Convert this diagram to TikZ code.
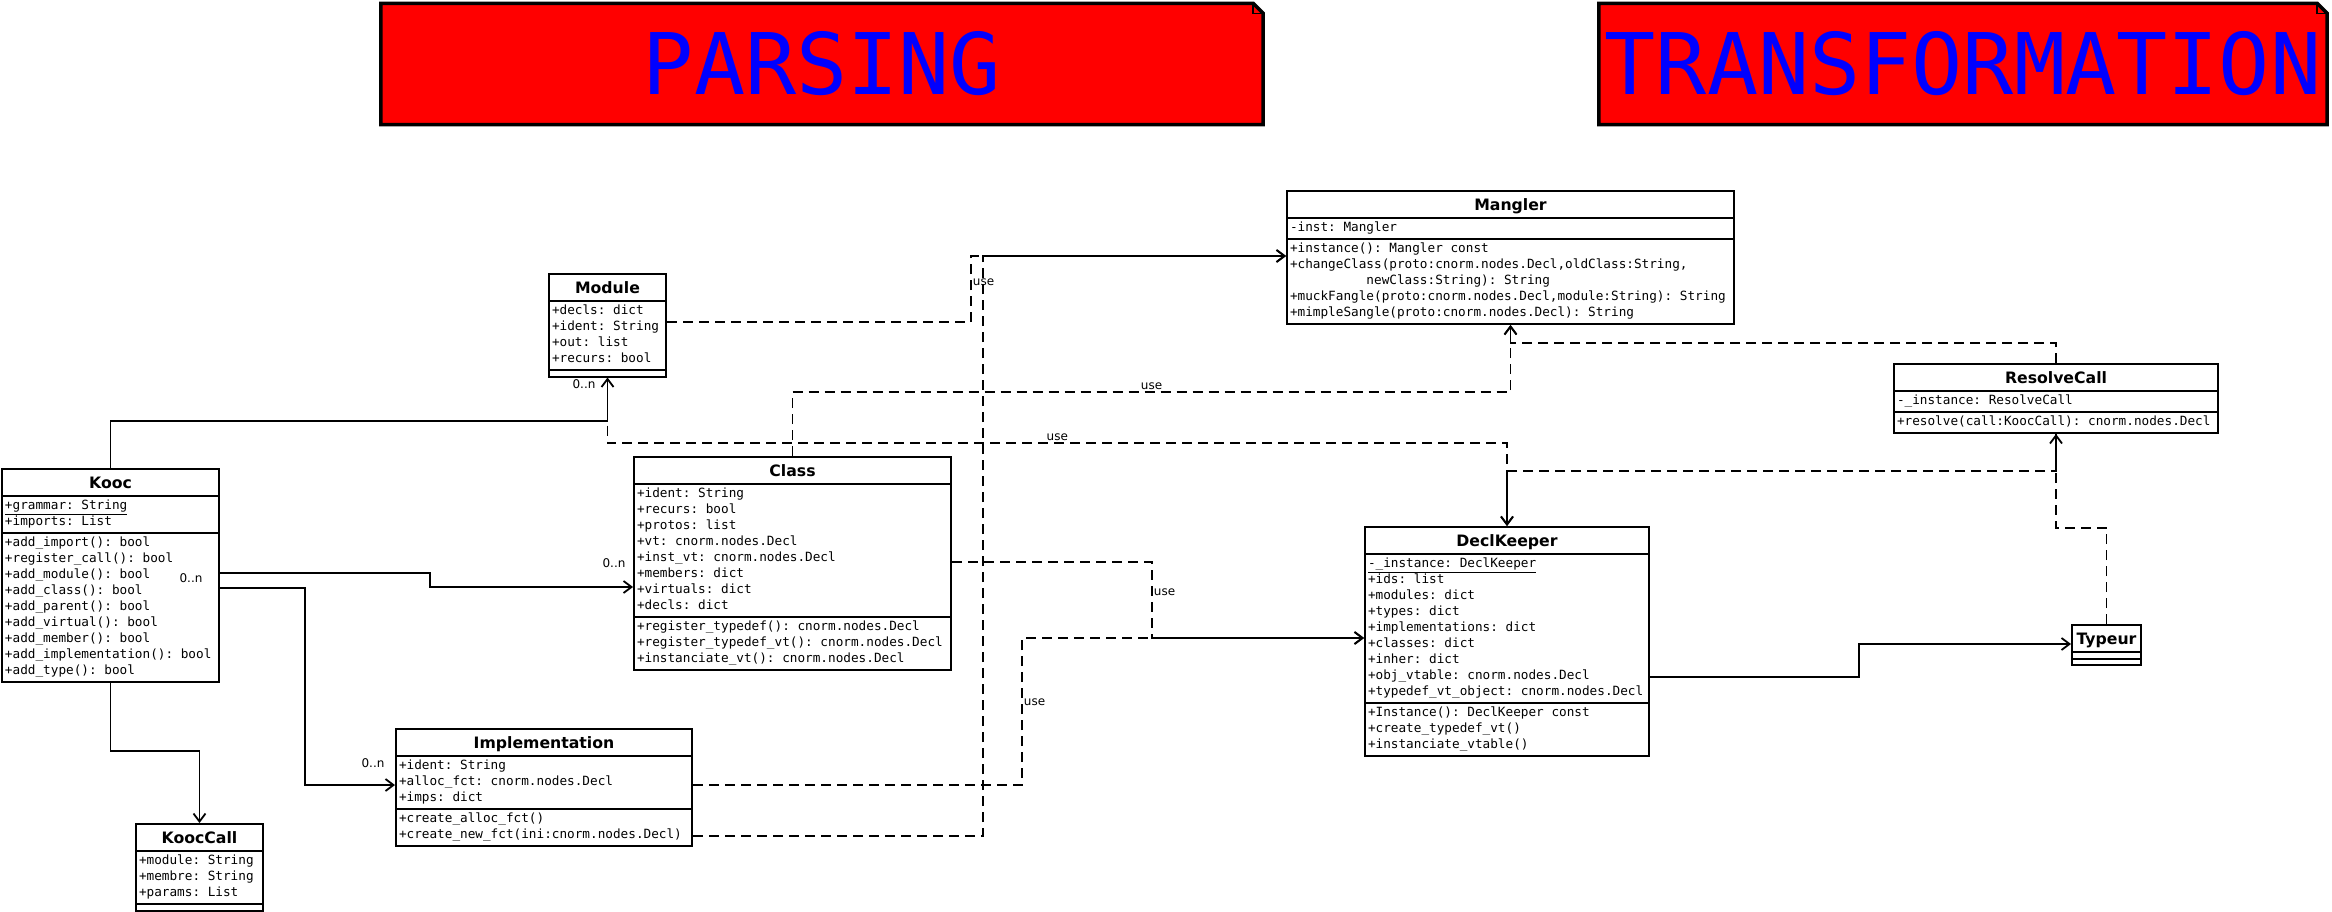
\documentclass[tikz,border=0pt]{standalone}
\usepackage{fontspec}
\setmainfont{DejaVu Sans}
\setsansfont{DejaVu Sans}
\setmonofont{DejaVu Sans Mono}
\definecolor{notered}{RGB}{255, 0, 0}
\definecolor{noteblue}{RGB}{0, 0, 255}
\usetikzlibrary{shapes.multipart, arrows.meta, positioning, calc, backgrounds}

\newcommand{\umlfont}{\ttfamily\fontsize{12.7}{16}\selectfont}
\newcommand{\umltitle}[1]{{\sffamily\bfseries\fontsize{15.7}{18}\selectfont\rule[-5.3pt]{0pt}{22pt}#1}}
\newcommand{\umlrows}[1]{\begin{tabular}{@{}l@{}}#1\end{tabular}}
\newcommand{\umlnone}{\rule{0pt}{1.5pt}}

\begin{document}
\begin{tikzpicture}[x=1pt, y=-1pt,
    umlclass/.style={draw, line width=2pt, rectangle split, rectangle split parts=3,
      rectangle split part align={center, left, left}, inner xsep=3pt, inner ysep=1.5pt,
      anchor=north west, font=\umlfont},
    note/.style={inner sep=0pt, minimum height=121pt, text=noteblue,
      font=\ttfamily\fontsize{85}{90}\selectfont},
    notebox/.style={draw, fill=notered, line width=3.5pt, line join=miter},
    assoc/.style={line width=1.8pt, -{Straight Barb[length=8pt, width=12pt]}},
    dep/.style={assoc, dash pattern=on 10pt off 6pt},
    use/.style={font=\sffamily\fontsize{12}{14}\selectfont, inner sep=1pt}]
  \useasboundingbox (0,0) rectangle (2332,912);

  % Package notes
  \node[note, minimum width=882pt] (parsing) at (822,64) {PARSING};
  \node[note, minimum width=728pt] (transfo) at (1963,64) {TRANSFORMATION};
  \begin{scope}[on background layer]
    \foreach \n in {parsing, transfo}
      \filldraw[notebox] (\n.north west) -- ([xshift=-10pt]\n.north east)
        -- ([yshift=-10pt]\n.north east) -- (\n.south east) -- (\n.south west) -- cycle;
  \end{scope}
  \foreach \n in {parsing, transfo}
    \draw[line width=1.5pt] ([xshift=-10pt]\n.north east) |- ([yshift=-10pt]\n.north east);

  % Parsing side
  \node[umlclass, minimum width=217pt] (kooc) at (1,468)
    {\umltitle{Kooc}%
     \nodepart{two}\umlrows{\underline{+grammar: String}\\+imports: List}%
     \nodepart{three}\umlrows{+add\_import(): bool\\+register\_call(): bool\\+add\_module(): bool\\+add\_class(): bool\\+add\_parent(): bool\\+add\_virtual(): bool\\+add\_member(): bool\\+add\_implementation(): bool\\+add\_type(): bool}};
  \node[umlclass, minimum width=117pt] (module) at (548,273)
    {\umltitle{Module}%
     \nodepart{two}\umlrows{+decls: dict\\+ident: String\\+out: list\\+recurs: bool}%
     \nodepart{three}\umlnone};
  \node[umlclass, minimum width=317pt] (class) at (633,456)
    {\umltitle{Class}%
     \nodepart{two}\umlrows{+ident: String\\+recurs: bool\\+protos: list\\+vt: cnorm.nodes.Decl\\+inst\_vt: cnorm.nodes.Decl\\+members: dict\\+virtuals: dict\\+decls: dict}%
     \nodepart{three}\umlrows{+register\_typedef(): cnorm.nodes.Decl\\+register\_typedef\_vt(): cnorm.nodes.Decl\\+instanciate\_vt(): cnorm.nodes.Decl}};
  \node[umlclass, minimum width=296pt] (impl) at (395,728)
    {\umltitle{Implementation}%
     \nodepart{two}\umlrows{+ident: String\\+alloc\_fct: cnorm.nodes.Decl\\+imps: dict}%
     \nodepart{three}\umlrows{+create\_alloc\_fct()\\+create\_new\_fct(ini:cnorm.nodes.Decl)}};
  \node[umlclass, minimum width=127pt] (kcall) at (135,823)
    {\umltitle{KoocCall}%
     \nodepart{two}\umlrows{+module: String\\+membre: String\\+params: List}%
     \nodepart{three}\umlnone};

  % Transformation side
  \node[umlclass, minimum width=447pt] (mangler) at (1286,190)
    {\umltitle{Mangler}%
     \nodepart{two}\umlrows{-inst: Mangler}%
     \nodepart{three}\umlrows{+instance(): Mangler const\\+changeClass(proto:cnorm.nodes.Decl,oldClass:String,\\\phantom{0123456789}newClass:String): String\\+muckFangle(proto:cnorm.nodes.Decl,module:String): String\\+mimpleSangle(proto:cnorm.nodes.Decl): String}};
  \node[umlclass, minimum width=324pt] (resolve) at (1893,363)
    {\umltitle{ResolveCall}%
     \nodepart{two}\umlrows{-\_instance: ResolveCall}%
     \nodepart{three}\umlrows{+resolve(call:KoocCall): cnorm.nodes.Decl}};
  \node[umlclass, minimum width=284pt] (keeper) at (1364,526)
    {\umltitle{DeclKeeper}%
     \nodepart{two}\umlrows{\underline{-\_instance: DeclKeeper}\\+ids: list\\+modules: dict\\+types: dict\\+implementations: dict\\+classes: dict\\+inher: dict\\+obj\_vtable: cnorm.nodes.Decl\\+typedef\_vt\_object: cnorm.nodes.Decl}%
     \nodepart{three}\umlrows{+Instance(): DeclKeeper const\\+create\_typedef\_vt()\\+instanciate\_vtable()}};
  \node[umlclass, minimum width=69pt] (typeur) at (2071,624)
    {\umltitle{Typeur}\nodepart{two}\umlnone\nodepart{three}\umlnone};

  % Associations
  \draw[assoc] (kooc.north) -- (kooc.north |- 0,421) -| (module.south);
  \draw[assoc] (kooc.east |- 0,573) -- (430,573) |- (class.west |- 0,587);
  \draw[assoc] (kooc.east |- 0,588) -- (305,588) |- (impl.west |- 0,785);
  \draw[assoc] (kooc.south) -- (kooc.south |- 0,751) -| (kcall.north);
  \draw[assoc] (keeper.east |- 0,677) -- (1859,677) |- (typeur.west |- 0,644);
  \node[use] (mmodule) at (584,384) {0..n};
  \node[use] (mclass) at (614,563) {0..n};
  \node[use] (mkooc) at (191,578) {0..n};
  \node[use] (mimpl) at (373,763) {0..n};

  % Dependencies
  \draw[dep] (module.east |- 0,322) -- (971,322) |- node[use, pos=0.3, anchor=west] (use1) {use} (mangler.west |- 0,256);
  \draw[dep] (impl.east |- 0,836) -- (983,836) |- (mangler.west |- 0,256);
  \draw[dep] (class.north) -- (class.north |- 0,392) -| node[use, pos=0.25, anchor=south] (use2) {use} (mangler.south);
  \draw[dep] (resolve.north) -- (resolve.north |- 0,343) -| (mangler.south);
  \draw[dep] (module.south) -- (module.south |- 0,443) -| node[use, pos=0.25, anchor=south] (use3) {use} (keeper.north);
  \draw[dep] (resolve.south) -- (resolve.south |- 0,471) -| (keeper.north);
  \draw[dep] (typeur.north) -- (typeur.north |- 0,528) -| (resolve.south);
  \draw[dep] (class.east |- 0,562) -- (1152,562) |- node[use, pos=0.2, anchor=west] (use4) {use} (keeper.west |- 0,638);
  \draw[dep] (impl.east |- 0,785) -- (1022,785) |- node[use, pos=0.28, anchor=west] (use5) {use} (keeper.west |- 0,638);
\end{tikzpicture}
\end{document}
